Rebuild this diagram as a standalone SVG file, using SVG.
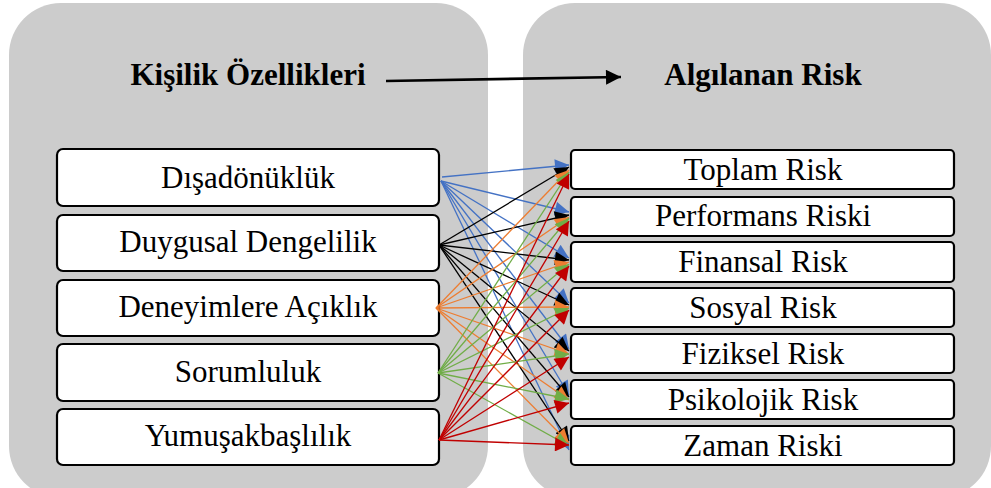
<svg xmlns="http://www.w3.org/2000/svg" width="991" height="488" viewBox="0 0 991 488">
<style>
.panel{fill:#cccccc;}
.box{fill:#ffffff;stroke:#000000;stroke-width:2.2;}
.t{font-family:'Liberation Serif','Times New Roman',Tinos,'DejaVu Serif',serif;font-size:31px;fill:#000000;text-anchor:middle;}
.h{font-family:'Liberation Serif','Times New Roman',Tinos,'DejaVu Serif',serif;font-size:31px;font-weight:bold;fill:#000000;text-anchor:middle;}
.c{stroke-width:1.3;fill:none;}
.cb{stroke:#4472C4;marker-end:url(#mb);}
.ck{stroke:#000000;marker-end:url(#mk);}
.co{stroke:#ED7D31;marker-end:url(#mo);}
.cg{stroke:#70AD47;marker-end:url(#mg);}
.cr{stroke:#C00000;marker-end:url(#mr);}
</style>
<defs>
<marker id="mb" viewBox="0 0 10 10" refX="10" refY="5" markerWidth="16" markerHeight="14" markerUnits="userSpaceOnUse" orient="auto"><path d="M0,0 L10,5 L0,10z" fill="#4472C4"/></marker>
<marker id="mk" viewBox="0 0 10 10" refX="10" refY="5" markerWidth="16" markerHeight="14" markerUnits="userSpaceOnUse" orient="auto"><path d="M0,0 L10,5 L0,10z" fill="#000000"/></marker>
<marker id="mo" viewBox="0 0 10 10" refX="10" refY="5" markerWidth="16" markerHeight="14" markerUnits="userSpaceOnUse" orient="auto"><path d="M0,0 L10,5 L0,10z" fill="#ED7D31"/></marker>
<marker id="mg" viewBox="0 0 10 10" refX="10" refY="5" markerWidth="16" markerHeight="14" markerUnits="userSpaceOnUse" orient="auto"><path d="M0,0 L10,5 L0,10z" fill="#70AD47"/></marker>
<marker id="mr" viewBox="0 0 10 10" refX="10" refY="5" markerWidth="16" markerHeight="14" markerUnits="userSpaceOnUse" orient="auto"><path d="M0,0 L10,5 L0,10z" fill="#C00000"/></marker>
<marker id="mh" viewBox="0 0 10 10" refX="10" refY="5" markerWidth="16" markerHeight="15" markerUnits="userSpaceOnUse" orient="auto"><path d="M0,0 L10,5 L0,10z" fill="#000000"/></marker>
</defs>
<g id="panels">
<rect class="panel" x="9" y="3" width="479" height="495" rx="52" ry="52"/>
<rect class="panel" x="523" y="3" width="468" height="495" rx="52" ry="52"/>
</g>
<g id="header-left"><text class="h" x="248" y="85">Kişilik Özellikleri</text></g>
<g id="header-right"><text class="h" x="763" y="85">Algılanan Risk</text></g>
<g id="header-arrow"><line x1="386" y1="81" x2="621" y2="77" stroke="#000000" stroke-width="2.6" marker-end="url(#mh)"/></g>
<g id="left-nodes">
<g id="n-disadonukluk"><rect class="box" x="57" y="149" width="382" height="57" rx="6"/><text class="t" x="248" y="188">Dışadönüklük</text></g>
<g id="n-duygusal"><rect class="box" x="57" y="215" width="382" height="56" rx="6"/><text class="t" x="248" y="252">Duygusal Dengelilik</text></g>
<g id="n-deneyim"><rect class="box" x="57" y="280" width="382" height="56" rx="6"/><text class="t" x="248" y="317">Deneyimlere Açıklık</text></g>
<g id="n-sorumluluk"><rect class="box" x="57" y="344" width="382" height="57" rx="6"/><text class="t" x="248" y="382">Sorumluluk</text></g>
<g id="n-yumusak"><rect class="box" x="57" y="409" width="382" height="56" rx="6"/><text class="t" x="248" y="446">Yumuşakbaşlılık</text></g>
</g>
<g id="right-nodes">
<g id="n-toplam"><rect class="box" x="571" y="150" width="383" height="39" rx="4"/><text class="t" x="763" y="180">Toplam Risk</text></g>
<g id="n-performans"><rect class="box" x="571" y="197" width="383" height="39" rx="4"/><text class="t" x="763" y="226">Performans Riski</text></g>
<g id="n-finansal"><rect class="box" x="571" y="242" width="383" height="40" rx="4"/><text class="t" x="763" y="272">Finansal Risk</text></g>
<g id="n-sosyal"><rect class="box" x="571" y="288" width="383" height="39" rx="4"/><text class="t" x="763" y="318">Sosyal Risk</text></g>
<g id="n-fiziksel"><rect class="box" x="571" y="334" width="383" height="39" rx="4"/><text class="t" x="763" y="364">Fiziksel Risk</text></g>
<g id="n-psikolojik"><rect class="box" x="571" y="380" width="383" height="39" rx="4"/><text class="t" x="763" y="410">Psikolojik Risk</text></g>
<g id="n-zaman"><rect class="box" x="571" y="426" width="383" height="39" rx="4"/><text class="t" x="763" y="456">Zaman Riski</text></g>
</g>
<g id="connectors">
<line class="c cb" x1="442" y1="177" x2="569" y2="165"/>
<line class="c cb" x1="441" y1="181" x2="569" y2="212"/>
<line class="c cb" x1="441" y1="181" x2="569" y2="258"/>
<line class="c cb" x1="441" y1="181" x2="569" y2="303"/>
<line class="c cb" x1="441" y1="181" x2="569" y2="349"/>
<line class="c cb" x1="441" y1="181" x2="569" y2="395"/>
<line class="c cb" x1="441" y1="181" x2="569" y2="450"/>
<line class="c ck" x1="439" y1="245" x2="569" y2="167"/>
<line class="c ck" x1="439" y1="245" x2="569" y2="215"/>
<line class="c ck" x1="439" y1="245" x2="569" y2="260"/>
<line class="c ck" x1="439" y1="245" x2="569" y2="305"/>
<line class="c ck" x1="439" y1="245" x2="569" y2="351"/>
<line class="c ck" x1="439" y1="245" x2="569" y2="397"/>
<line class="c ck" x1="439" y1="245" x2="569" y2="441"/>
<line class="c co" x1="436" y1="308" x2="569" y2="170"/>
<line class="c co" x1="436" y1="308" x2="569" y2="217"/>
<line class="c co" x1="436" y1="308" x2="569" y2="262"/>
<line class="c co" x1="436" y1="308" x2="569" y2="307"/>
<line class="c co" x1="436" y1="308" x2="569" y2="354"/>
<line class="c co" x1="436" y1="308" x2="569" y2="400"/>
<line class="c co" x1="436" y1="308" x2="569" y2="443"/>
<line class="c cg" x1="438" y1="373" x2="569" y2="172"/>
<line class="c cg" x1="438" y1="373" x2="569" y2="218"/>
<line class="c cg" x1="438" y1="373" x2="569" y2="264"/>
<line class="c cg" x1="438" y1="373" x2="569" y2="308"/>
<line class="c cg" x1="438" y1="373" x2="569" y2="354"/>
<line class="c cg" x1="438" y1="373" x2="569" y2="399"/>
<line class="c cg" x1="438" y1="373" x2="569" y2="446"/>
<line class="c cr" x1="439" y1="440" x2="569" y2="174"/>
<line class="c cr" x1="439" y1="440" x2="569" y2="221"/>
<line class="c cr" x1="439" y1="440" x2="569" y2="266"/>
<line class="c cr" x1="439" y1="440" x2="569" y2="310"/>
<line class="c cr" x1="439" y1="440" x2="569" y2="357"/>
<line class="c cr" x1="439" y1="440" x2="569" y2="403"/>
<line class="c cr" x1="439" y1="440" x2="569" y2="445"/>
</g>
</svg>
